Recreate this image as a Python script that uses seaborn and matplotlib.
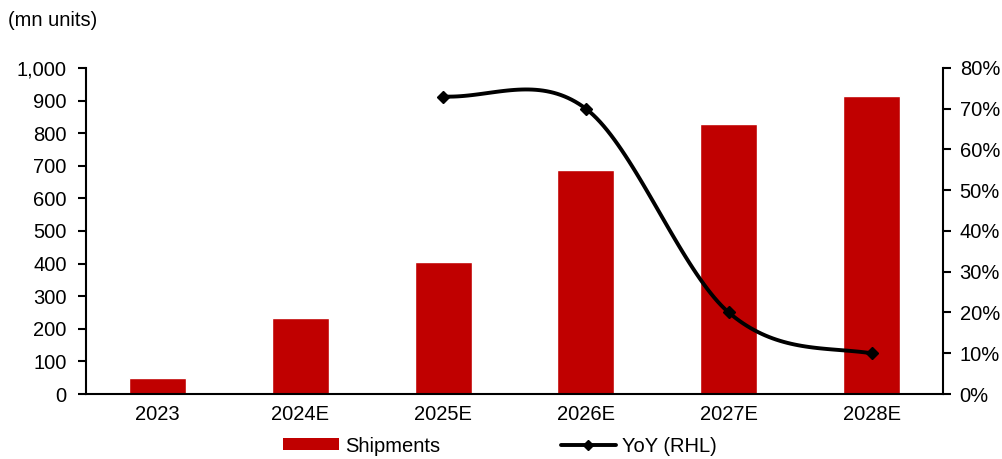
import numpy as np
import matplotlib
matplotlib.use("Agg")
import matplotlib.pyplot as plt
from matplotlib.lines import Line2D
from matplotlib.patches import Patch
from matplotlib.ticker import FuncFormatter, MultipleLocator
import seaborn as sns
import pandas as pd

years = ["2023", "2024E", "2025E", "2026E", "2027E", "2028E"]
shipments = [50, 233, 404, 688, 828, 914]
yoy_years = ["2025E", "2026E", "2027E", "2028E"]
yoy = [73, 70, 20, 10]

BAR_RED = "#C00000"

sns.set_theme(style="white")
plt.rcParams["font.family"] = ["Liberation Sans", "DejaVu Sans"]
plt.rcParams["text.color"] = "black"
FS = 14.5


def smooth_curve(x, y, steps=40):
    """Catmull-Rom spline through the points, for a smoothed line."""
    x = np.asarray(x, float)
    y = np.asarray(y, float)
    n = len(x)
    xs, ys = [], []
    for i in range(n - 1):
        p0 = y[i - 1] if i > 0 else y[i]
        p3 = y[i + 2] if i + 2 < n else y[i + 1]
        p1, p2 = y[i], y[i + 1]
        m1 = (p2 - p0) / 2.0
        m2 = (p3 - p1) / 2.0
        t = np.linspace(0, 1, steps, endpoint=(i == n - 2))
        h00 = 2 * t**3 - 3 * t**2 + 1
        h10 = t**3 - 2 * t**2 + t
        h01 = -2 * t**3 + 3 * t**2
        h11 = t**3 - t**2
        ys.append(h00 * p1 + h10 * m1 + h01 * p2 + h11 * m2)
        xs.append(x[i] + t * (x[i + 1] - x[i]))
    return np.concatenate(xs), np.concatenate(ys)


fig = plt.figure(figsize=(10.02, 4.59), dpi=100)
ax = fig.add_axes([86 / 1002, 1 - 394 / 459, (943 - 86) / 1002, (394 - 68) / 459])

df = pd.DataFrame({"year": years, "shipments": shipments})
sns.barplot(data=df, x="year", y="shipments", color=BAR_RED, saturation=1,
            width=0.4, ax=ax, zorder=2)

ax.set_xlim(-0.5, len(years) - 0.5)
ax.set_ylim(0, 1000)
ax.yaxis.set_major_locator(MultipleLocator(100))
ax.yaxis.set_major_formatter(FuncFormatter(lambda v, p: f"{v:,.0f}"))
ax.set_xlabel("")
ax.set_ylabel("")

ax.set_xticks(range(len(years)))
ax.set_xticklabels(years)
ax.set_xticks(np.arange(-0.5, len(years), 1.0), minor=True)
ax.tick_params(axis="x", which="major", length=0, pad=8, labelsize=FS, colors="black")
ax.tick_params(axis="x", which="minor", length=6, width=1.5, direction="out", color="black")
ax.tick_params(axis="y", which="major", length=6, width=1.5, direction="out",
               labelsize=FS, colors="black", left=True, pad=8)

for s in ["top", "right"]:
    ax.spines[s].set_visible(False)
for s in ["left", "bottom"]:
    ax.spines[s].set_color("black")
    ax.spines[s].set_linewidth(1.5)

ax2 = ax.twinx()
ax2.set_ylim(0, 80)
ax2.yaxis.set_major_locator(MultipleLocator(10))
ax2.yaxis.set_major_formatter(FuncFormatter(lambda v, p: f"{v:.0f}%"))
ax2.tick_params(axis="y", which="major", length=6, width=1.5, direction="out",
                labelsize=FS, colors="black", right=True, pad=6)
for s in ["top", "left", "bottom"]:
    ax2.spines[s].set_visible(False)
ax2.spines["right"].set_color("black")
ax2.spines["right"].set_linewidth(1.5)
ax2.grid(False)

xpos = [years.index(y) for y in yoy_years]
cx, cy = smooth_curve(xpos, yoy)
ax2.plot(cx, cy, color="black", lw=2.8, solid_capstyle="round", zorder=3)
ax2.plot(xpos, yoy, linestyle="none", marker="D", markersize=6.5,
         color="black", zorder=4)

fig.text(8 / 1002, 1 - 20 / 459, "(mn units)", fontsize=FS, va="center", ha="left",
         color="black")

handles = [
    Patch(facecolor=BAR_RED, edgecolor="none", label="Shipments"),
    Line2D([0], [0], color="black", lw=2.8, marker="D", markersize=5.5,
           label="YoY (RHL)"),
]
fig.legend(handles=handles, loc="center", bbox_to_anchor=(500 / 1002, 1 - 446 / 459),
           ncol=2, frameon=False, fontsize=FS, handlelength=2.75, handleheight=0.55,
           handletextpad=0.3, columnspacing=6.0, borderaxespad=0, labelcolor="black")

fig.savefig("out.png", dpi=100)
